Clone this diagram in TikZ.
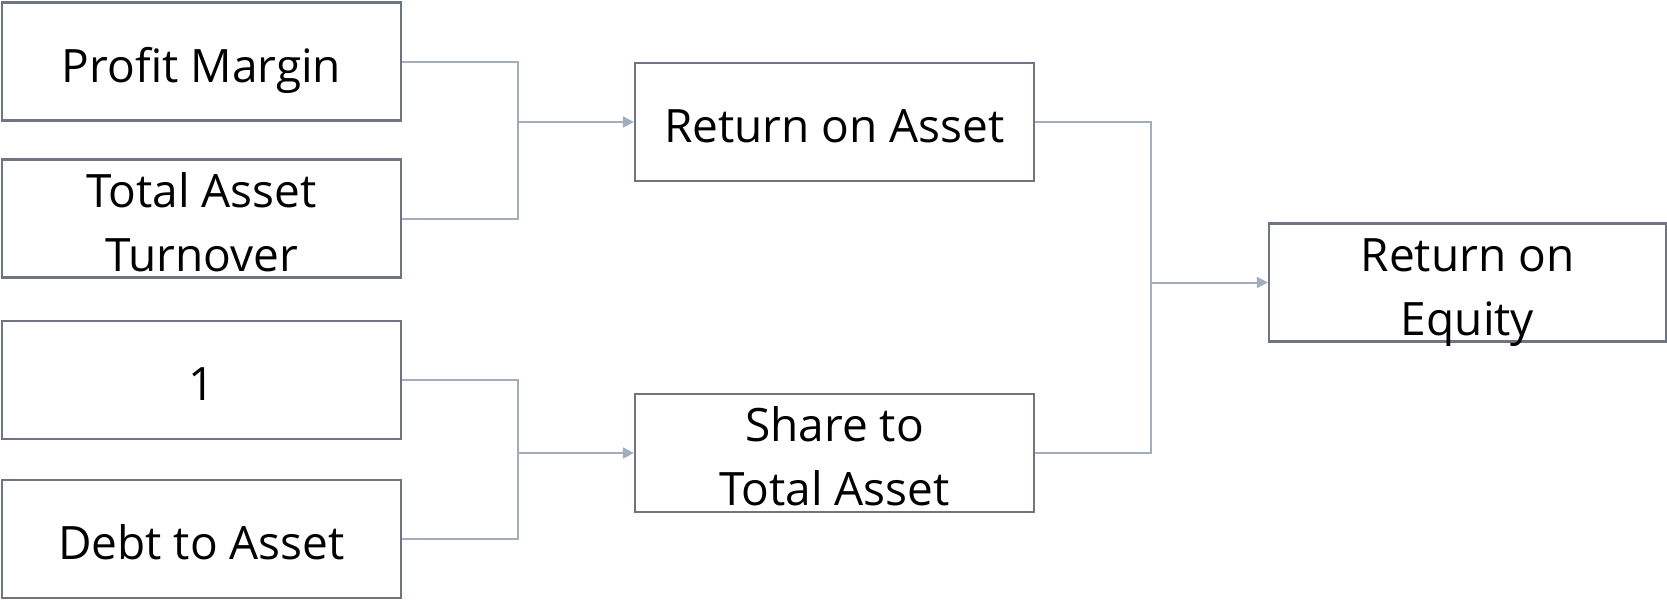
\documentclass[tikz,border=0pt]{standalone}
\usepackage{fontspec}
\setmainfont{Open Sans}
\usetikzlibrary{arrows.meta}
\definecolor{boxline}{HTML}{6E7580}
\definecolor{conn}{HTML}{A2AEBD}
\newcommand\ls{\rule[-11.5pt]{0pt}{46pt}}
\begin{document}
\begin{tikzpicture}[x=1pt,y=-1pt,
  bx/.style={draw=boxline, line width=2.2pt, minimum width=399pt, minimum height=118pt,
    inner sep=0pt},
  tx/.style={inner sep=0pt, align=center, font=\fontsize{46}{64}\selectfont, yshift=-9pt},
  cn/.style={draw=conn, line width=2pt},
  ar/.style={cn, -{Triangle[length=11pt,width=11pt]}}]
\useasboundingbox (0,0) rectangle (1667,600);
\node[bx, label={[tx]center:\ls Profit Margin}] (pm) at (201.5,61.5) {};
\node[bx, label={[tx]center:\ls Total Asset\\\ls Turnover}] (tat) at (201.5,218.5) {};
\node[bx, label={[tx]center:\ls 1}] (one) at (201.5,380) {};
\node[bx, label={[tx]center:\ls Debt to Asset}] (dta) at (201.5,539) {};
\node[bx, label={[tx]center:\ls Return on Asset}] (roa) at (834.5,122) {};
\node[bx, label={[tx]center:\ls Share to\\\ls Total Asset}] (sta) at (834.5,453) {};
\node[bx, minimum width=397pt, label={[tx]center:\ls Return on\\\ls Equity}] (roe) at (1467.5,282.5) {};
\coordinate (b1) at (518,122);
\coordinate (b2) at (518,453);
\coordinate (b3) at (1151,282.5);
\draw[cn] (pm.east) -| (b1) |- (tat.east);
\draw[ar] (b1) -- (roa.west);
\draw[cn] (one.east) -| (b2) |- (dta.east);
\draw[ar] (b2) -- (sta.west);
\draw[cn] (roa.east) -| (b3) |- (sta.east);
\draw[ar] (b3) -- (roe.west);
\end{tikzpicture}
\end{document}
